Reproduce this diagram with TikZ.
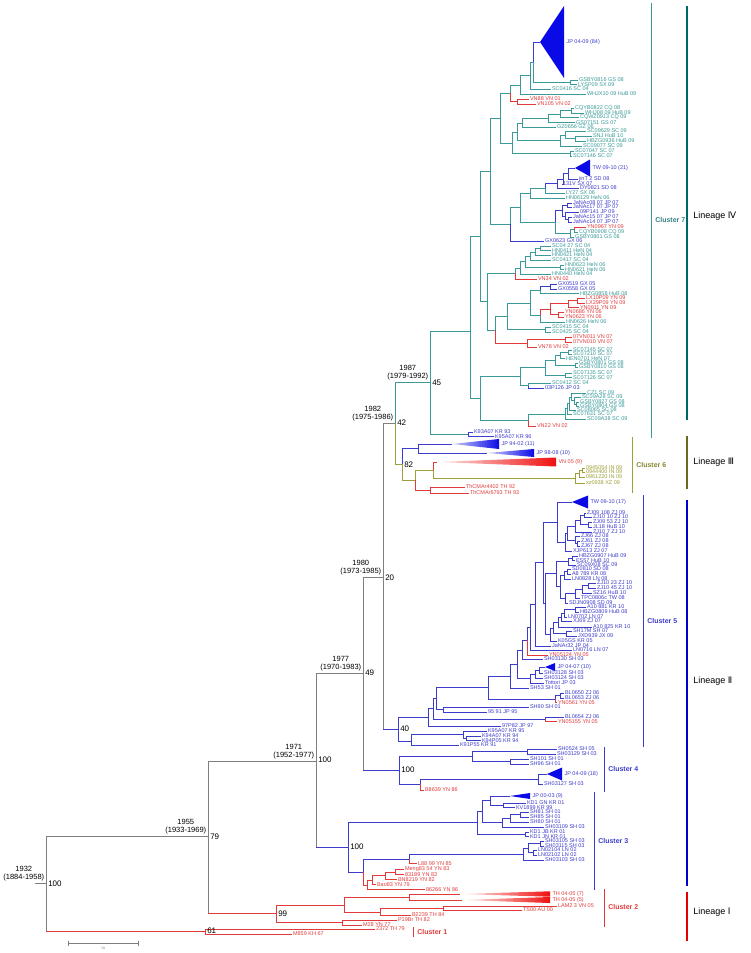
\documentclass[tikz,border=0pt]{standalone}
\usepackage{fontspec}
\setmainfont{Liberation Sans}
\newfontfamily\numfont{DejaVu Sans}

\definecolor{tealc}{HTML}{3A9999}
\definecolor{bluec}{HTML}{3C3CCC}
\definecolor{redc}{HTML}{E23A3A}
\definecolor{olivec}{HTML}{9E9E3A}
\definecolor{grayc}{HTML}{7F7F7F}
\definecolor{trib}{HTML}{0A0AE6}
\definecolor{trir}{HTML}{F01010}

\tikzset{
  leaf/.style={anchor=west,inner sep=0.8pt,font=\fontsize{5.5}{5.5}\selectfont},
  date/.style={anchor=south east,align=center,inner sep=0.5pt,font=\fontsize{7.5}{8}\selectfont},
  supp/.style={anchor=west,inner sep=1pt,font=\fontsize{8}{8}\selectfont},
  clab/.style={anchor=west,inner sep=1pt,font=\fontsize{7}{7}\selectfont\bfseries},
  lin/.style={anchor=west,inner sep=1pt,font=\fontsize{9}{9}\selectfont},
}

% clade node: colour, name, parent, x, y
\newcommand{\cn}[5][tealc]{%
  \coordinate (#2) at (#4,#5);
  \draw[#1] (#3) |- (#2);}
% backbone node: vertical and horizontal in two colours
\newcommand{\cb}[6]{%
  \coordinate (#1) at (#3,#4);
  \draw[#5] (#2) -- (#2 |- #1);
  \draw[#6] (#2 |- #1) -- (#1);}
% leaf: colour, name, parent, x, y, label
\newcommand{\lf}[6][tealc]{%
  \node[leaf,text=#1] (#2) at (#4,#5) {#6};
  \draw[#1] (#3) |- (#2.west);}
% collapsed clade
\newcommand{\tri}[9]{%
  \coordinate (#1) at (#3,#4);
  \draw[#8] (#2) |- (#1);
  \path[#9] (#1) -- (#5,#4-#6) -- (#5,#4+#6) -- cycle;
  \node[leaf,text=#8] (#1-lab) at (#5+1.5,#4) {#7};}

\begin{document}
\begin{tikzpicture}[x=1pt,y=-1pt,line width=0.5pt]
\useasboundingbox (0,0) rectangle (751,953);

% backbone
\coordinate (root) at (46,883);
\coordinate (stub) at (35,883);
\draw[grayc] (stub) -- (root);
\cb{n1955}{root}{208}{836}{grayc}{grayc}
\cb{n61}{root}{205}{931}{grayc}{redc}
\cb{n1971}{n1955}{316}{761}{grayc}{grayc}
\cb{n99}{n1955}{276}{913}{grayc}{redc}
\cb{n1977}{n1971}{363}{673}{grayc}{grayc}
\cb{c3}{n1971}{348}{847}{grayc}{bluec}
\cb{n1980}{n1977}{383}{577}{grayc}{grayc}
\cb{c4}{n1977}{399}{770}{grayc}{bluec}
\cb{n1982}{n1980}{395}{423}{grayc}{grayc}
\cb{n40}{n1980}{398}{729}{grayc}{bluec}
\cn{n1987}{n1982}{430}{382}
\cn[olivec]{n82}{n1982}{402}{464}

% lineage III
\cn[bluec]{jp9}{n82}{418}{448}
\tri{t9402}{jp9}{452}{444}{499}{5}{JP 94-02 (11)}{bluec}{left color=trib!20,right color=trib}
\tri{t9808}{jp9}{487}{453}{534}{4}{JP 98-08 (10)}{bluec}{left color=trib!20,right color=trib}
\cn[olivec]{c6o}{n82}{415}{480}
\cn[olivec]{c6a}{c6o}{433}{470}
\tri{vn05}{c6a}{437}{462}{556}{4.5}{VN 05 (9)}{redc}{left color=trir!10,right color=trir}
\cn[olivec]{c6b}{c6a}{575}{478}
\cn[olivec]{c6e}{c6b}{579}{473.5}
\cn[olivec]{c6d}{c6e}{582}{470}
\lf[olivec]{l0945054}{c6d}{585}{468}{0945054 IN 09}
\lf[olivec]{l0944400}{c6d}{585}{472}{0944400 IN 09}
\lf[olivec]{l0961220}{c6e}{585}{477}{0961220 IN 09}
\lf[olivec]{lxz0938}{c6b}{585}{483}{xz0938 XZ 09}
\cn[redc]{thn}{c6o}{430}{490}
\lf[redc]{lth4402}{thn}{465}{487}{ThCMAr4402 TH 92}
\lf[redc]{lth6793}{thn}{469}{493}{ThCMAr6793 TH 93}

% cluster 7
\cn{c7}{n1987}{470}{331}
\cn{kn}{n1987}{468}{434}
\lf[bluec]{lk93}{kn}{473}{432}{K93A07 KR 93}
\lf[bluec]{lk95}{kn}{494}{436.5}{K95A07 KR 96}
\cn{a3}{c7}{480}{236}
\cn{yz}{c7}{480}{398}
\cn{a1}{a3}{490}{171}
\cn{a2}{a3}{487}{301}
\cn{tu}{a1}{500}{118}
\cn{v14}{a1}{510}{224}
\cn{w7}{a2}{515}{273}
\cn{x13}{a2}{495}{330}

\cn{t6}{tu}{510}{93}
\cn{t4}{t6}{520}{85}
\cn{t3}{t4}{530}{75}
\cn{t1}{t3}{533}{62}
\tri{jp84}{t1}{540}{42}{564}{36}{JP 04-09 (84)}{bluec}{fill=trib}
\cn{t2}{t1}{570}{82}
\lf{lgsby0816}{t2}{578}{80}{GSBY0816 GS 08}
\lf{llysp09}{t2}{577}{84.5}{LYSP09 SX 09}
\lf{lsc0416}{t3}{551}{89}{SC0416 SC 04}
\lf{lwhjx10}{t4}{586}{94}{WHJX10 09 HuB 09}
\cn[redc]{tv}{t6}{517}{101.5}
\lf[redc]{lvn88}{tv}{529}{99}{VN88 VN 01}
\lf[redc]{lvn105}{tv}{536}{104}{VN105 VN 02}

\cn{u6}{tu}{512}{143}
\cn{u9}{u6}{517}{132}
\cn{u3}{u9}{522}{123}
\cn{u2}{u3}{548}{118.5}
\cn{u1}{u2}{560}{114}
\cn{ua}{u1}{571}{110.5}
\lf{lcqyb0822}{ua}{574}{108}{CQYB0822 CQ 08}
\lf{lwhj08}{ua}{584}{113}{WHJ08 09 HuB 09}
\lf{lcqwz0913}{u1}{579}{117.5}{CQWZ0913 CQ 09}
\lf{lgs07151}{u2}{575}{122.5}{GS07151 GS 07}
\lf{lgz0656}{u3}{556}{127}{GZ0656 GZ 06}
\cn{u4c}{u9}{560}{140.5}
\cn{u4b}{u4c}{565}{135}
\lf{lsc09629}{u4b}{586}{131}{SC09629 SC 09}
\cn{u4a}{u4b}{575}{138.5}
\lf{lsnj}{u4a}{592}{136}{SNJ HuB 10}
\lf{lhbzg0936}{u4a}{586}{141}{HBZG0936 HuB 09}
\lf{lsc09077}{u4c}{582}{146}{SC09077 SC 09}
\cn{u7}{u6}{570}{153.5}
\lf{lsc07047}{u7}{574}{151}{SC07047 SC 07}
\lf{lsc07146}{u7}{572}{156}{SC07146 SC 07}

\cn{v13}{v14}{520}{207}
\lf[bluec]{lgx0623}{v14}{544}{241}{GX0623 GX 06}
\cn{v5}{v13}{530}{193}
\cn{v12}{v13}{555}{222}
\cn{v4}{v5}{545}{188}
\lf{lhn06129}{v5}{565}{198}{HN06129 HeN 06}
\cn[bluec]{v3}{v4}{557}{183.5}
\lf{lly27}{v4}{565}{193}{LY27 SX 06}
\cn[bluec]{v2}{v3}{563}{179}
\lf[bluec]{ldy0821}{v3}{579}{188}{DY0821 SD 08}
\cn[bluec]{v1}{v2}{568}{173.5}
\lf[bluec]{l131v}{v2}{562}{184}{131V SX 07}
\tri{tw21}{v1}{575}{168}{590}{8.5}{TW 09-10 (21)}{bluec}{fill=trib}
\lf[bluec]{ljint2}{v1}{578}{179}{jinT 2 SD 08}
\cn[bluec]{v9}{v12}{562}{210}
\cn[bluec]{v6}{v9}{567}{205}
\lf[bluec]{ljanac08}{v6}{572}{203}{JaNAc08 07 JP 07}
\lf[bluec]{ljanac17}{v6}{572}{207}{JaNAc17 07 JP 07}
\cn[bluec]{v8}{v9}{565}{216}
\lf[bluec]{l09p141}{v8}{579}{212}{09P141 JP 09}
\cn[bluec]{v7}{v8}{568}{219.5}
\lf[bluec]{ljanac15}{v7}{572}{217}{JaNAc15 07 JP 07}
\lf[bluec]{ljanac14}{v7}{572}{222}{JaNAc14 07 JP 07}
\cn{v11}{v12}{570}{233}
\cn{v10}{v11}{574}{229.5}
\lf[redc]{lyn0967}{v10}{586}{227}{YN0967 YN 09}
\lf{lcqyb0908}{v10}{578}{232}{CQYB0908 CQ 09}
\lf{lgsby0861}{v11}{574}{237}{GSBY0861 GS 08}

\cn{w6}{w7}{520}{268}
\lf[redc]{lvn34}{w7}{537}{279}{VN34 VN 02}
\cn{w5}{w6}{525}{261.5}
\lf{lhn0440}{w6}{551}{274}{HN0440 HeN 04}
\cn{w3}{w5}{530}{256}
\cn{w4}{w5}{560}{267}
\lf{lhn0623}{w4}{564}{265}{HN0623 HeN 06}
\lf{lhn0621}{w4}{564}{269.5}{HN0621 HeN 06}
\cn{w2}{w3}{535}{252}
\lf{lsc0417}{w3}{551}{260}{SC0417 SC 04}
\cn{w1}{w2}{540}{248.5}
\lf{lhn0421}{w2}{551}{255}{HN0421 HeN 04}
\lf{lsc0427}{w1}{551}{246}{SC04 27 SC 04}
\lf{lhn0411}{w1}{551}{250.5}{HN0411 HeN 04}

\cn{x10}{x13}{507}{316}
\cn[redc]{x12}{x13}{527}{343}
\cn{x8}{x10}{530}{303}
\cn{x9}{x10}{545}{329.5}
\cn{x2}{x8}{540}{290}
\cn{x7}{x8}{540}{315.5}
\cn[bluec]{x1}{x2}{550}{286.5}
\lf[bluec]{lgx0519}{x1}{557}{284}{GX0519 GX 05}
\lf[bluec]{lgx0558}{x1}{557}{289}{GX0558 GX 05}
\lf{lhbzg0858}{x2}{579}{293.5}{HBZG0858 HuB 08}
\cn[redc]{x6}{x7}{550}{309}
\lf{lhn0626}{x7}{565}{322}{HN0626 HeN 06}
\cn[redc]{x4}{x6}{568}{303.5}
\cn[redc]{x5}{x6}{558}{314.5}
\cn[redc]{x3}{x4}{577}{300.5}
\lf[redc]{llx10p09}{x3}{585}{298}{LX10P09 YN 09}
\lf[redc]{llx29p09}{x3}{585}{303}{LX29P09 YN 09}
\lf[redc]{lyn0911}{x4}{579}{307.5}{YN0911 YN 09}
\lf[redc]{lyn0686}{x5}{564}{312}{YN0686 YN 06}
\lf[redc]{lyn0623}{x5}{564}{317}{YN0623 YN 06}
\lf{lsc0415}{x9}{551}{327}{SC0415 SC 04}
\lf{lsc0425}{x9}{551}{332}{SC0425 SC 04}
\cn[redc]{x11}{x12}{565}{339.5}
\lf[redc]{l07vn011}{x11}{572}{337}{07VN011 VN 07}
\lf[redc]{l07vn010}{x11}{572}{342}{07VN010 VN 07}
\lf[redc]{lvn78}{x12}{537}{347}{VN78 VN 02}

\cn{y8}{yz}{520}{376.5}
\cn{y6}{y8}{545}{367.5}
\cn{y7}{y8}{528}{385.5}
\cn{y4}{y6}{555}{360}
\cn{y5}{y6}{565}{375}
\cn{y2}{y4}{560}{355}
\cn{y3}{y4}{575}{365}
\cn{y1}{y2}{568}{352}
\lf{lsc07145}{y1}{572}{350}{SC07145 SC 07}
\lf{lsc07210}{y1}{572}{354}{SC07210 SC 07}
\lf{lhen0701}{y2}{565}{358.5}{HEN0701 HeN 07}
\lf{lgsby0801}{y3}{578}{363}{GSBY0801 GS 08}
\lf{lgsby0810}{y3}{578}{367}{GSBY0810 GS 08}
\lf{lsc07135}{y5}{572}{373}{SC07135 SC 07}
\lf{lsc07126}{y5}{572}{377.5}{SC07126 SC 07}
\lf{lsc0412}{y7}{551}{383}{SC0412 SC 04}
\lf[bluec]{l03p126}{y7}{544}{388}{03P126 JP 03}

\cn{z7}{yz}{528}{420}
\lf[redc]{lvn22}{z7}{536}{426}{VN22 VN 02}
\cn{z6}{z7}{565}{414}
\cn{z5}{z6}{567}{408.5}
\lf{lsc09a38}{z6}{586}{419}{SC09A38 SC 09}
\cn{z4}{z5}{569}{403.5}
\lf{lsc07631}{z5}{572}{414}{SC07631 SC 07}
\cn{z3}{z4}{571}{397}
\lf{lsc08065}{z4}{576}{410}{SC08065 SC 08}
\lf{lcz1}{z3}{586}{393}{CZ1 SC 09}
\cn{z2}{z3}{574}{400.5}
\lf{lsc09a28}{z2}{581}{397}{SC09A28 SC 09}
\cn{z1}{z2}{576}{404}
\lf{lgsby0827}{z1}{579}{402}{GSBY0827 GS 08}
\lf{lgsby0804}{z1}{579}{406}{GSBY0804 GS 08}

% cluster 5
\cn[bluec]{p13}{n40}{428}{717}
\cn[bluec]{c5k}{n40}{411}{741}
\lf[bluec]{l97p82}{p13}{501}{726}{97P82 JP 97}
\cn[bluec]{p12}{p13}{433}{708.5}
\cn[bluec]{b2}{p12}{545}{719}
\lf[bluec]{lbl0654}{b2}{564}{717}{BL0654 ZJ 06}
\lf[redc]{lyn05155}{b2}{557}{721.5}{YN05155 YN 05}
\cn[bluec]{p11}{p12}{436}{698}
\cn[bluec]{s1}{p11}{443}{709.5}
\lf[bluec]{lsh90}{s1}{529}{707}{SH90 SH 01}
\lf[bluec]{l9591}{s1}{487}{712}{95 91 JP 95}
\cn[bluec]{p10}{p11}{488}{687}
\cn[bluec]{bl2}{p10}{555}{699}
\cn[bluec]{bl1}{bl2}{560}{695.5}
\lf[bluec]{lbl0650}{bl1}{564}{693}{BL0650 ZJ 06}
\lf[bluec]{lbl0653}{bl1}{564}{698}{BL0653 ZJ 06}
\lf[redc]{lyn0561}{bl2}{557}{702.5}{YN0561 YN 05}
\cn[bluec]{p9}{p10}{510}{676}
\lf[bluec]{lsh53}{p9}{529}{688}{SH53 SH 01}
\cn[bluec]{p8}{p9}{517}{664}
\cn[bluec]{j3}{p8}{530}{678.5}
\cn[bluec]{j2}{j3}{535}{674}
\cn[bluec]{j1}{j2}{539}{670}
\tri{jp0407}{j1}{545}{667}{555}{4}{JP 04-07 (10)}{bluec}{fill=trib}
\lf[bluec]{lsh03128}{j1}{543}{673}{SH03128 SH 03}
\lf[bluec]{lsh03124}{j2}{543}{678}{SH03124 SH 03}
\lf[bluec]{ltottori}{j3}{544}{683}{Tottori JP 03}
\cn[bluec]{p7}{p8}{522}{650}
\lf[bluec]{lsh03130}{p7}{543}{659}{SH03130 SH 03}
\cn[bluec]{p6}{p7}{527}{640}
\lf[redc]{lyn05124}{p6}{548}{655}{YN05124 YN 05}
\cn[bluec]{p5}{p6}{530}{627}
\lf[bluec]{lln0716}{p5}{572}{650}{LN0716 LN 07}
\cn[bluec]{p4}{p5}{535}{604}
\lf[bluec]{ljanar32}{p4}{551}{646}{JaNAr32 JP 04}
\cn[bluec]{p3}{p4}{543}{562}
\cn[bluec]{p1}{p3}{557}{522}
\cn[bluec]{p2}{p3}{545}{603}
\tri{tw17}{p1}{572}{502}{588}{6.5}{TW 09-10 (17)}{bluec}{fill=trib}
\cn[bluec]{zjg}{p1}{565}{542}
\cn[bluec]{zjf}{zjg}{567}{533}
\lf[bluec]{lxjp613}{zjg}{572}{551}{XJP613 ZJ 07}
\cn[bluec]{zjd}{zjf}{575}{526}
\cn[bluec]{zje}{zjf}{575}{540}
\cn[bluec]{zjc}{zjd}{580}{520}
\lf[bluec]{lzj107}{zjd}{592}{532}{ZJ10 7 ZJ 10}
\cn[bluec]{zja}{zjc}{584}{515}
\cn[bluec]{zjb}{zjc}{588}{524.5}
\lf[bluec]{lzj09108}{zja}{586}{513}{ZJ09 108 ZJ 09}
\lf[bluec]{lzj1010}{zja}{592}{517}{ZJ10 10 ZJ 10}
\lf[bluec]{lzj0953}{zjb}{592}{522}{ZJ09 53 ZJ 10}
\lf[bluec]{ljl18}{zjb}{592}{527}{JL18 HuB 10}
\lf[bluec]{lzj66}{zje}{580}{536}{ZJ66 ZJ 08}
\cn[bluec]{zje1}{zje}{577}{543.5}
\lf[bluec]{lzj61}{zje1}{580}{541}{ZJ61 ZJ 08}
\lf[bluec]{lzj67}{zje1}{580}{546}{ZJ67 ZJ 08}

\cn[bluec]{hb5}{p2}{556}{573}
\cn[bluec]{ah6}{p2}{550}{634}
\cn[bluec]{hb2}{hb5}{568}{561}
\cn[bluec]{hb4}{hb5}{560}{586}
\cn[bluec]{hb1}{hb2}{572}{558}
\lf[bluec]{lhbzg0907}{hb1}{578}{556}{HBZG0907 HuB 09}
\lf[bluec]{les57}{hb1}{575}{560.5}{ES57 HuB 10}
\lf[bluec]{lsc09x08}{hb2}{576}{565}{SC09X08 SC 09}
\cn[bluec]{hb3}{hb4}{564}{575}
\cn[bluec]{zz4}{hb4}{565}{598}
\cn[bluec]{hb3a}{hb3}{567}{571.5}
\lf[bluec]{lsd0810}{hb3a}{571}{569}{SD0810 SD 08}
\lf[bluec]{la8789}{hb3a}{571}{574}{A8 789 KR 08}
\lf[bluec]{lln0828}{hb3}{571}{579}{LN0828 LN 08}
\cn[bluec]{zz3}{zz4}{575}{593}
\lf[bluec]{lsdjn0908}{zz4}{568}{603}{SDJN0908 SD 09}
\cn[bluec]{zz2}{zz3}{582}{589}
\lf[bluec]{ltpc0806c}{zz3}{580}{598}{TPC0806c TW 08}
\cn[bluec]{zz1}{zz2}{588}{585.5}
\lf[bluec]{lsz16}{zz2}{592}{593}{SZ16 HuB 10}
\lf[bluec]{lzj1023}{zz1}{596}{583}{ZJ10 23 ZJ 10}
\lf[bluec]{lzj1045}{zz1}{596}{588}{ZJ10 45 ZJ 10}

\cn[bluec]{ah5}{ah6}{553}{628}
\lf[bluec]{lk05gs}{ah6}{557}{641}{K05GS KR 05}
\cn[bluec]{ah4}{ah5}{558}{622}
\cn[bluec]{sj}{ah5}{566}{633.5}
\lf[bluec]{lsh17m}{sj}{572}{631}{SH17M SH 07}
\lf[bluec]{ljxd939}{sj}{577}{636}{JXD939 JX 09}
\cn[bluec]{ah3}{ah4}{561}{617}
\lf[bluec]{la10825}{ah4}{592}{627}{A10 825 KR 10}
\cn[bluec]{ah2}{ah3}{564}{613}
\lf[bluec]{lxj69}{ah3}{572}{621}{XJ69 ZJ 07}
\cn[bluec]{ah1}{ah2}{575}{609.5}
\lf[bluec]{lln0702}{ah2}{567}{617}{LN0702 LN 07}
\lf[bluec]{la10881}{ah1}{586}{607}{A10 881 KR 10}
\lf[bluec]{lhbzg0809}{ah1}{579}{612}{HBZG0809 HuB 08}

\cn[bluec]{c5k2}{c5k}{463}{734}
\lf[bluec]{lk91p55}{c5k}{459}{745}{K91P55 KR 91}
\lf[bluec]{lk95a07}{c5k2}{487}{731}{K95A07 KR 95}
\cn[bluec]{c5k1}{c5k2}{466}{738}
\lf[bluec]{lk94a07}{c5k1}{481}{736}{K94A07 KR 94}
\lf[bluec]{lk94p05}{c5k1}{481}{740.5}{K94P05 KR 94}

% cluster 4
\cn[bluec]{c4a}{c4}{472}{756}
\cn[bluec]{c4d}{c4}{420}{784}
\cn[bluec]{c4b}{c4a}{527}{751.5}
\lf[bluec]{lsh0524}{c4b}{557}{749}{SH0524 SH 05}
\lf[bluec]{lsh03129}{c4b}{556}{754}{SH03129 SH 03}
\cn[bluec]{c4c}{c4a}{510}{761.5}
\lf[bluec]{lsh101}{c4c}{529}{759}{SH101 SH 01}
\lf[bluec]{lsh96}{c4c}{529}{764}{SH96 SH 01}
\cn[bluec]{c4e}{c4d}{538}{779}
\tri{jp18}{c4e}{547}{774}{562}{6.5}{JP 04-09 (18)}{bluec}{fill=trib}
\lf[bluec]{lsh03127}{c4e}{543}{784}{SH03127 SH 03}
\lf[redc]{lb8639}{c4d}{424}{790}{B8639 YN 86}

% cluster 3
\cn[bluec]{c3top}{c3}{477}{822}
\cn[bluec]{c3low}{c3}{363}{872}
\cn[bluec]{c3a}{c3top}{482}{811}
\cn[bluec]{c3h}{c3top}{525}{834}
\lf[bluec]{lkd1jb}{c3h}{529}{832}{KD1 JB KR 01}
\lf[bluec]{lkd1jn}{c3h}{529}{836.5}{KD1 JN KR 01}
\cn[bluec]{c3b}{c3a}{490}{800}
\cn[bluec]{c3c}{c3a}{502}{822}
\tri{jp0003}{c3b}{510}{796}{530}{3}{JP 00-03 (9)}{bluec}{fill=trib}
\cn[bluec]{c3e}{c3b}{503}{805}
\lf[bluec]{lkd1gn}{c3e}{526}{803}{KD1 GN KR 01}
\lf[bluec]{lkv1899}{c3e}{515}{807.5}{KV1899 KR 99}
\cn[bluec]{c3g}{c3c}{510}{818}
\lf[bluec]{lsh03109}{c3c}{544}{827}{SH03109 SH 03}
\cn[bluec]{c3f}{c3g}{520}{814.5}
\lf[bluec]{lsh80}{c3g}{529}{822}{SH80 SH 01}
\lf[bluec]{lsh81}{c3f}{529}{812}{SH81 SH 01}
\lf[bluec]{lsh85}{c3f}{529}{817}{SH85 SH 01}
\cn[bluec]{c3m}{c3low}{409}{859}
\cn[redc]{c3r}{c3low}{367}{885}
\cn[bluec]{c3i}{c3m}{523}{854}
\lf[redc]{ll8899}{c3m}{417}{863.5}{L88 99 YN 85}
\cn[bluec]{c3j}{c3i}{528}{848}
\lf[bluec]{lsh03103}{c3i}{544}{860}{SH03103 SH 03}
\cn[bluec]{c3k}{c3j}{540}{843.5}
\cn[bluec]{c3l}{c3j}{533}{852.5}
\lf[bluec]{lsh03105}{c3k}{544}{841}{SH03105 SH 03}
\lf[bluec]{lsh03115}{c3k}{544}{846}{SH03115 SH 03}
\lf[bluec]{lln02104}{c3l}{537}{850}{LN02104 LN 02}
\lf[bluec]{lln02102}{c3l}{537}{855}{LN02102 LN 02}
\cn[redc]{c3q}{c3r}{372}{880}
\lf[redc]{l86266}{c3r}{425}{889.5}{86266 YN 86}
\cn[redc]{c3p}{c3q}{385}{875}
\lf[redc]{lbao83}{c3q}{376}{884.5}{Bao83 YN 79}
\cn[redc]{c3o}{c3p}{395}{872}
\lf[redc]{lbn8219}{c3p}{397}{879.5}{BN8219 YN 82}
\lf[redc]{lmeng83}{c3o}{404}{869.5}{Meng83 54 YN 83}
\lf[redc]{l83189}{c3o}{404}{874.5}{83189 YN 83}

% cluster 2 and 1
\cn[redc]{c2a}{n99}{344}{905}
\cn[redc]{c2d}{n99}{342}{922}
\cn[redc]{trn}{c2a}{409}{897}
\cn[redc]{c2b}{c2a}{380}{912}
\tri{th7}{trn}{460}{894}{550}{2.7}{TH 04-05 (7)}{redc}{left color=trir!5,right color=trir}
\tri{th5}{trn}{462}{900}{550}{3}{TH 04-05 (5)}{redc}{left color=trir!5,right color=trir}
\cn[redc]{c2c}{c2b}{443}{908}
\lf[redc]{lb2239}{c2b}{411}{915}{B2239 TH 84}
\lf[redc]{llam2}{c2c}{557}{906}{LAM2 3 VN 05}
\lf[redc]{lts00}{c2c}{522}{910}{TS00 AU 00}
\lf[redc]{lp19br}{c2d}{397}{920}{P19Br TH 82}
\lf[redc]{lm28}{c2d}{362}{925}{M28 YN 77}
\lf[redc]{l2372}{n61}{375}{929}{2372 TH 79}
\lf[redc]{lm859}{n61}{292}{934}{M859 KH 67}

% node ages
\node[date] (d1987) at (429,381) {1987\\(1979-1992)};
\node[date] (d1982) at (394,422) {1982\\(1975-1986)};
\node[date] (d1980) at (382,576) {1980\\(1973-1985)};
\node[date] (d1977) at (362,672) {1977\\(1970-1983)};
\node[date] (d1971) at (315,760) {1971\\(1952-1977)};
\node[date] (d1955) at (207,835) {1955\\(1933-1969)};
\node[date] (d1932) at (45,882) {1932\\(1884-1958)};

% support values
\node[supp] (s45) at (431,383) {45};
\node[supp] (s42) at (396,423) {42};
\node[supp] (s82) at (403,465) {82};
\node[supp] (s20) at (384,578) {20};
\node[supp] (s49) at (364,673) {49};
\node[supp] (s40) at (399,729) {40};
\node[supp] (s100a) at (400,770) {100};
\node[supp] (s100b) at (317,760) {100};
\node[supp] (s100c) at (349,847) {100};
\node[supp] (s79) at (209,837) {79};
\node[supp] (s100d) at (47,884) {100};
\node[supp] (s99) at (277,914) {99};
\node[supp] (s61) at (206,931) {61};

% clusters
\draw[tealc,line width=0.8pt] (651,3) -- (651,438);
\node[clab,text=tealc!85!black] (cl7) at (654,220) {Cluster 7};
\draw[olivec,line width=0.8pt] (632,437) -- (632,493);
\node[clab,text=olivec!85!black] (cl6) at (635,465) {Cluster 6};
\draw[bluec,line width=0.8pt] (643,495) -- (643,747);
\node[clab,text=bluec] (cl5) at (646,621) {Cluster 5};
\draw[bluec,line width=0.8pt] (604,747) -- (604,792);
\node[clab,text=bluec] (cl4) at (607,769) {Cluster 4};
\draw[bluec,line width=0.8pt] (594,792) -- (594,890);
\node[clab,text=bluec] (cl3) at (597,841) {Cluster 3};
\draw[redc,line width=0.8pt] (604,889) -- (604,927);
\node[clab,text=redc] (cl2) at (607,907) {Cluster 2};
\draw[redc,line width=0.8pt] (413,927) -- (413,937);
\node[clab,text=redc] (cl1) at (416,932) {Cluster 1};

% lineages
\draw[teal!80!black,line width=1.6pt] (687,6) -- (687,420);
\node[lin] (lin4) at (692,216) {Lineage {\numfont Ⅳ}};
\draw[olive!70!black,line width=1.6pt] (687,436) -- (687,489);
\node[lin] (lin3) at (692,462) {Lineage {\numfont Ⅲ}};
\draw[blue!80!black,line width=1.6pt] (687,500) -- (687,886);
\node[lin] (lin2) at (692,681) {Lineage {\numfont Ⅱ}};
\draw[red!90!black,line width=1.6pt] (687,892) -- (687,941);
\node[lin] (lin1) at (692,912) {Lineage {\numfont Ⅰ}};

% scale bar
\draw[grayc] (68,943) -- (138,943);
\draw[grayc] (68,940.5) -- (68,945.5);
\draw[grayc] (138,940.5) -- (138,945.5);
\node[inner sep=0pt,font=\fontsize{3.5}{3.5}\selectfont,text=grayc] (sb) at (103,948) {10};

\end{tikzpicture}
\end{document}
